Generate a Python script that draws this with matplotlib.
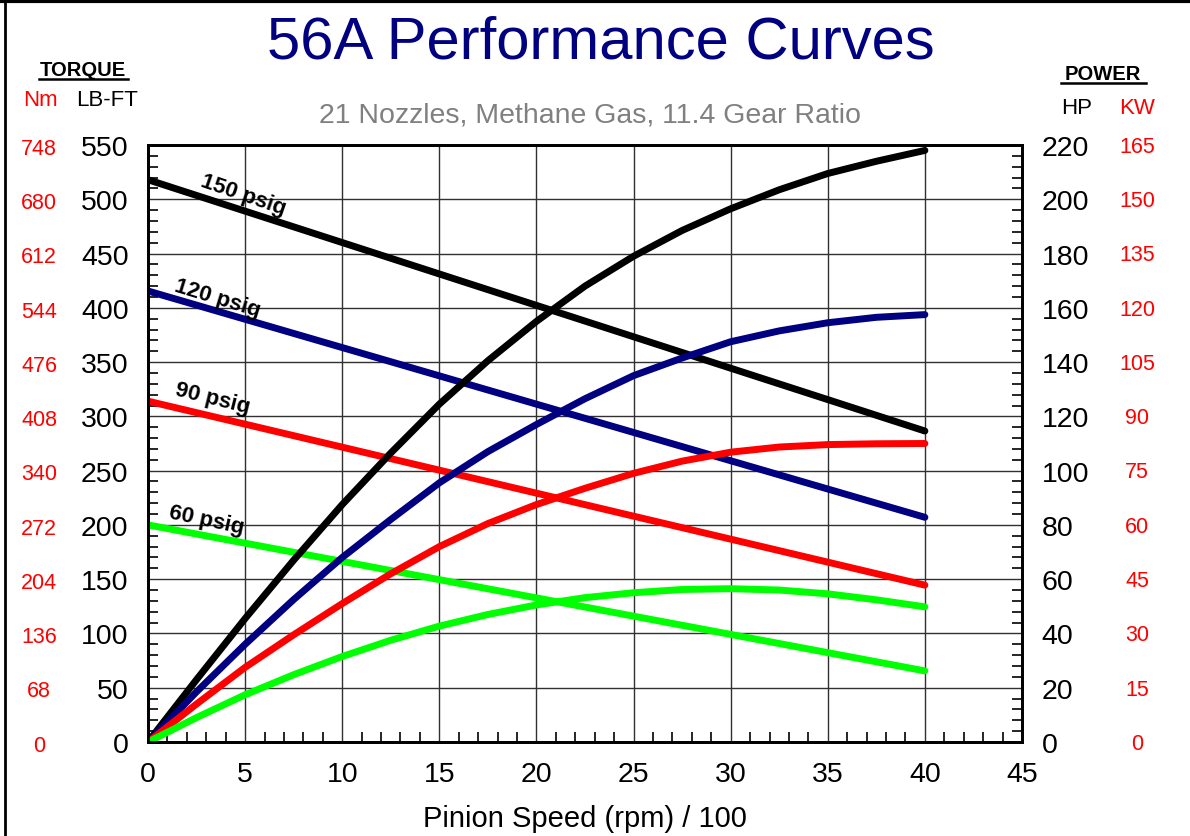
import numpy as np
import matplotlib.pyplot as plt
from matplotlib.lines import Line2D
from matplotlib.ticker import MultipleLocator
import matplotlib.transforms as mtransforms

plt.rcParams['font.family'] = ['Liberation Sans', 'DejaVu Sans']

# pinion speed (rpm/100)
speed = [0, 2.5, 5, 7.5, 10, 12.5, 15, 17.5, 20, 22.5, 25, 27.5, 30, 32.5, 35, 37.5, 40]

# torque (lb-ft) at 0 and 40
torque_speed = [0, 40]
torque_150 = [518, 286.5]
torque_120 = [415.5, 207]
torque_90 = [314, 144.5]
torque_60 = [200, 65.5]

# power (hp)
hp_150 = [0, 23, 45.5, 67, 87.5, 106.5, 124.5, 140.5, 155, 168, 179, 188.5, 196.5, 203.5, 209.5, 214, 218]
hp_120 = [0, 18.5, 36, 52.5, 68, 82, 95.5, 107, 117, 126.5, 135, 141.5, 147.5, 151.5, 154.5, 156.5, 157.5]
hp_90 = [0, 14, 27.5, 39.5, 51, 62, 72, 80.5, 87.5, 93.5, 99, 103.5, 106.8, 108.7, 109.6, 109.9, 110]
hp_60 = [0, 9, 17.4, 24.8, 31.5, 37.5, 42.7, 47, 50.5, 53.2, 55, 56.2, 56.5, 56, 54.6, 52.4, 49.8]

labels = ['150 psig', '120 psig', '90 psig', '60 psig']
colors = ['black', '#000080', '#ff0000', '#00ff00']

lbft_ticks = list(range(0, 551, 50))
nm_labels = ['0', '68', '136', '204', '272', '340', '408', '476', '544', '612', '680', '748']
hp_ticks = list(range(0, 221, 20))
kw_labels = ['0', '15', '30', '45', '60', '75', '90', '105', '120', '135', '150', '165']

fig = plt.figure(figsize=(11.9, 8.37), dpi=100)
ax = fig.add_axes([148/1190, 1 - 743/837, 874/1190, 597/837])
ax2 = ax.twinx()

ax.set_xlim(0, 45)
ax.set_ylim(0, 550)
ax2.set_ylim(0, 220)

ax.xaxis.set_major_locator(MultipleLocator(5))
ax.xaxis.set_minor_locator(MultipleLocator(1))
ax.yaxis.set_major_locator(MultipleLocator(50))
ax.yaxis.set_minor_locator(MultipleLocator(10))
ax2.yaxis.set_major_locator(MultipleLocator(20))
ax2.yaxis.set_minor_locator(MultipleLocator(4))

ax.grid(True, which='major', color='#303030', lw=1.0)
ax.set_axisbelow(True)

ax.tick_params(axis='both', which='both', direction='in', labelsize=20.5, top=False)
ax.tick_params(axis='y', which='major', length=0, pad=14)
ax.tick_params(axis='x', which='major', length=0, pad=14)
ax.tick_params(axis='both', which='minor', length=7, width=1.2)
ax2.tick_params(axis='y', which='major', length=0, labelsize=20.5, pad=14)
ax2.tick_params(axis='y', which='minor', direction='in', length=7, width=1.2)

for sp in list(ax.spines.values()) + list(ax2.spines.values()):
    sp.set_linewidth(2)

# torque lines
torques = [torque_150, torque_120, torque_90, torque_60]
for t, c in zip(torques, colors):
    ax.plot(torque_speed, t, color=c, lw=5, solid_capstyle='round')

# power curves
for p, c in zip([hp_150, hp_120, hp_90, hp_60], colors):
    ax2.plot(speed, p, color=c, lw=5, solid_capstyle='round', solid_joinstyle='round')

# curve labels
label_pos = [(4.9, 504, -19), (3.6, 409, -17), (3.3, 317, -14), (3.0, 205, -12)]
for lab, (x, y, r) in zip(labels, label_pos):
    ax.text(x, y, lab, fontsize=16, fontweight='bold', rotation=r,
            ha='center', va='center', rotation_mode='anchor')

# Nm labels on the left
trans_l = mtransforms.blended_transform_factory(fig.transFigure, ax.transData)
for v, s in zip(lbft_ticks, nm_labels):
    ax.text(39/1190, v - 3, s, transform=trans_l, color='red', fontsize=15.5,
            ha='center', va='center')

# KW labels on the right
trans_r = mtransforms.blended_transform_factory(fig.transFigure, ax2.transData)
for v, s in zip(hp_ticks, kw_labels):
    ax2.text(1137/1190, v - 0.5, s, transform=trans_r, color='red', fontsize=15.5,
             ha='center', va='center')

ax.set_xlabel('Pinion Speed (rpm) / 100', fontsize=21, labelpad=12)

# headers
fig.text(83/1190, 1 - 70/837, 'TORQUE', fontsize=14.5, fontweight='bold', ha='center', va='center')
fig.add_artist(Line2D([39/1190, 128/1190], [1 - 80/837, 1 - 80/837], color='black', lw=1.8))
fig.text(40/1190, 1 - 101/837, 'Nm', color='red', fontsize=16, ha='center', va='center')
fig.text(107/1190, 1 - 101/837, 'LB-FT', fontsize=16, ha='center', va='center')

fig.text(1103/1190, 1 - 75/837, 'POWER', fontsize=14.5, fontweight='bold', ha='center', va='center')
fig.add_artist(Line2D([1061/1190, 1146/1190], [1 - 84/837, 1 - 84/837], color='black', lw=1.8))
fig.text(1077/1190, 1 - 109/837, 'HP', fontsize=16, ha='center', va='center')
fig.text(1137/1190, 1 - 109/837, 'KW', color='red', fontsize=16, ha='center', va='center')

fig.text(601/1190, 1 - 43/837, '56A Performance Curves', color='#000080', fontsize=43,
         ha='center', va='center')
fig.text(590/1190, 1 - 116/837, '21 Nozzles, Methane Gas, 11.4 Gear Ratio', color='#808080',
         fontsize=20.5, ha='center', va='center')

# outer frame
fig.add_artist(Line2D([0, 1], [1 - 2/837, 1 - 2/837], color='black', lw=3))
fig.add_artist(Line2D([5/1190, 5/1190], [0, 1], color='black', lw=2))

fig.savefig('out.png', dpi=100)
